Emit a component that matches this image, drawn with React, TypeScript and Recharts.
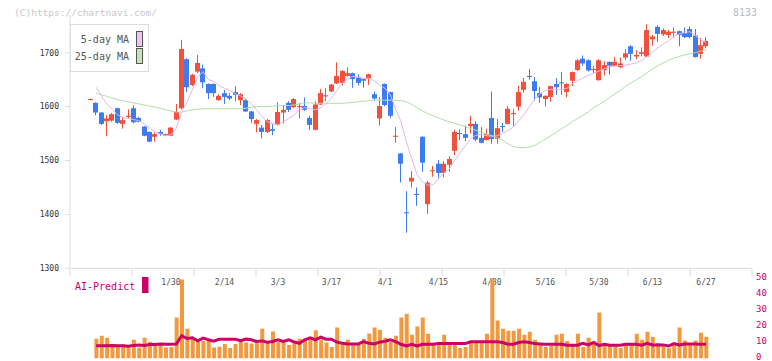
import React from 'react';
import { ComposedChart, Bar, Line, XAxis, YAxis } from 'recharts';

const FONT = '"DejaVu Sans Mono", monospace';
const UP = '#f0503c';
const DOWN = '#3c7cf0';
const AI = '#cc0066';

// daily candles, index 0 = first visible session
const opens = [
  1613, 1607, 1589, 1573, 1574, 1597, 1568, 1581, 1597, 1579,
  1563, 1553, 1544, 1553, 1546, 1546, 1576, 1597, 1688, 1640,
  1665, 1671, 1642, 1642, 1612, 1625, 1620, 1627, 1612, 1612,
  1591, 1568, 1561, 1553, 1558, 1566, 1589, 1607, 1599, 1599,
  1601, 1579, 1557, 1604, 1619, 1628, 1643, 1644, 1657, 1662,
  1654, 1651, 1651, 1623, 1578, 1642, 1627, 1544, 1513, 1404,
  1461, 1438, 1544, 1419, 1480, 1494, 1477, 1492, 1518, 1551,
  1549, 1564, 1568, 1542, 1538, 1579, 1540, 1564, 1568, 1586,
  1600, 1631, 1657, 1647, 1625, 1614, 1618, 1642, 1645, 1627,
  1648, 1668, 1689, 1686, 1668, 1649, 1668, 1683, 1676, 1673,
  1691, 1712, 1693, 1698, 1693, 1725, 1748, 1734, 1733, 1737,
  1740, 1736, 1744, 1732, 1698, 1712,
];
const highs = [
  1615, 1608, 1590, 1584, 1588, 1598, 1580, 1595, 1602, 1581,
  1564, 1554, 1552, 1557, 1550, 1562, 1605, 1724, 1690, 1661,
  1696, 1678, 1643, 1643, 1623, 1631, 1625, 1638, 1625, 1614,
  1592, 1577, 1566, 1577, 1568, 1608, 1603, 1610, 1616, 1607,
  1617, 1583, 1610, 1633, 1634, 1642, 1682, 1668, 1673, 1663,
  1660, 1653, 1661, 1628, 1618, 1643, 1628, 1562, 1514, 1443,
  1480, 1450, 1545, 1462, 1490, 1501, 1499, 1508, 1557, 1558,
  1565, 1583, 1573, 1562, 1559, 1628, 1577, 1570, 1601, 1596,
  1639, 1653, 1670, 1655, 1636, 1621, 1639, 1653, 1664, 1644,
  1665, 1688, 1695, 1688, 1675, 1688, 1684, 1684, 1692, 1691,
  1707, 1714, 1705, 1710, 1753, 1733, 1751, 1745, 1742, 1747,
  1741, 1747, 1749, 1744, 1727, 1729,
];
const lows = [
  1612, 1584, 1566, 1545, 1572, 1568, 1559, 1578, 1569, 1571,
  1545, 1534, 1535, 1546, 1545, 1545, 1575, 1595, 1627, 1638,
  1662, 1634, 1614, 1618, 1611, 1605, 1612, 1610, 1603, 1590,
  1569, 1552, 1541, 1551, 1547, 1565, 1569, 1590, 1597, 1578,
  1592, 1557, 1556, 1603, 1610, 1627, 1642, 1639, 1656, 1635,
  1639, 1635, 1640, 1612, 1565, 1601, 1579, 1533, 1459, 1366,
  1450, 1416, 1479, 1401, 1470, 1468, 1469, 1479, 1510, 1538,
  1536, 1550, 1536, 1532, 1537, 1531, 1531, 1553, 1567, 1564,
  1592, 1626, 1650, 1611, 1607, 1600, 1609, 1622, 1622, 1617,
  1638, 1666, 1676, 1665, 1662, 1648, 1658, 1659, 1675, 1671,
  1686, 1685, 1688, 1693, 1692, 1713, 1720, 1731, 1727, 1728,
  1712, 1727, 1727, 1691, 1689, 1708,
];
const closes = [
  1614, 1589, 1568, 1578, 1586, 1570, 1575, 1583, 1571, 1572,
  1546, 1535, 1549, 1549, 1549, 1561, 1590, 1707, 1636, 1659,
  1681, 1645, 1625, 1625, 1620, 1618, 1615, 1622, 1623, 1591,
  1577, 1575, 1553, 1575, 1555, 1590, 1594, 1594, 1614, 1601,
  1594, 1566, 1604, 1625, 1621, 1641, 1657, 1666, 1662, 1651,
  1644, 1648, 1660, 1615, 1601, 1603, 1583, 1546, 1494, 1402,
  1468, 1436, 1496, 1459, 1482, 1477, 1494, 1503, 1553, 1549,
  1542, 1568, 1539, 1533, 1549, 1540, 1560, 1562, 1596, 1588,
  1627, 1646, 1655, 1629, 1617, 1620, 1638, 1636, 1643, 1642,
  1664, 1686, 1680, 1667, 1670, 1686, 1677, 1676, 1683, 1680,
  1699, 1698, 1696, 1701, 1742, 1730, 1735, 1742, 1739, 1739,
  1733, 1729, 1729, 1692, 1714, 1722,
];
const ma5 = [
  null, 1636, 1620, 1605, 1595, 1585, 1580, 1578, 1576, 1574,
  1568, 1560, 1553, 1550, 1546, 1548, 1560, 1590, 1609, 1631,
  1655, 1665, 1650, 1647, 1639, 1634, 1630, 1624, 1620, 1614,
  1606, 1594, 1582, 1572, 1568, 1566, 1572, 1578, 1584, 1594,
  1598, 1596, 1594, 1598, 1606, 1616, 1630, 1643, 1652, 1656,
  1655, 1652, 1653, 1648, 1640, 1634, 1622, 1595, 1572, 1535,
  1503, 1474, 1461, 1454, 1455, 1466, 1477, 1484, 1500, 1514,
  1527, 1540, 1547, 1548, 1546, 1545, 1546, 1550, 1556, 1562,
  1574, 1586, 1600, 1614, 1624, 1630, 1632, 1632, 1632, 1634,
  1642, 1648, 1653, 1658, 1662, 1666, 1670, 1674, 1675, 1676,
  1677, 1679, 1681, 1686, 1693, 1701, 1709, 1716, 1722, 1731,
  1735, 1738, 1739, 1732, 1724, 1719,
];
const ma25 = [
  null, 1625, 1622, 1619, 1616, 1613, 1611, 1609, 1607, 1605,
  1603, 1601, 1599, 1597, 1594, 1592, 1590, 1590, 1592, 1594,
  1595, 1596, 1596, 1596, 1596, 1596, 1596, 1596, 1596, 1597,
  1599, 1600, 1600, 1600, 1601, 1602, 1602, 1602, 1603, 1605,
  1607, 1607, 1606, 1606, 1606, 1606, 1606, 1606, 1607, 1608,
  1609, 1610, 1611, 1612, 1612, 1612, 1612, 1612, 1611, 1609,
  1604, 1598, 1592, 1587, 1583, 1579, 1575, 1572, 1569, 1566,
  1563, 1559, 1556, 1552, 1549, 1546, 1542, 1538, 1531, 1526,
  1524, 1524, 1525, 1528, 1534, 1540, 1546, 1552, 1559, 1565,
  1572, 1578, 1584, 1590, 1598, 1604, 1610, 1617, 1624, 1630,
  1638, 1644, 1650, 1656, 1663, 1670, 1676, 1681, 1686, 1690,
  1693, 1696, 1698, 1700, 1703, 1705,
];
const volumes = [
  null, 12.3, 14.2, 12.9, 8.9, 7.8, 8.9, 7.2, 11.7, 6.8,
  12.9, 10.4, 8.9, 9.3, 6.8, 7.2, 25.6, 49.4, 18.6, 12.9,
  12.1, 11.0, 11.4, 6.8, 7.4, 9.1, 6.6, 9.1, 11.0, 10.0,
  9.3, 11.0, 18.6, 10.6, 16.9, 10.6, 10.0, 8.5, 10.6, 12.3,
  11.4, 12.9, 17.6, 11.7, 10.0, 7.2, 19.3, 10.0, 11.7, 8.9,
  8.5, 12.3, 15.7, 19.3, 18.0, 12.9, 10.5, 14.2, 25.6, 28.0,
  14.8, 20.0, 25.6, 15.5, 9.0, 9.0, 14.8, 9.0, 9.0, 6.6,
  7.2, 11.0, 11.0, 11.0, 15.5, 50.0, 23.7, 18.6, 17.4, 17.4,
  18.6, 14.8, 16.7, 11.7, 9.7, 7.2, 7.8, 14.8, 15.5, 11.0,
  9.1, 15.5, 7.2, 12.9, 10.4, 28.8, 7.8, 7.8, 7.8, 6.6,
  8.5, 8.5, 15.5, 11.7, 16.7, 13.6, 9.7, 7.8, 6.6, 8.5,
  19.3, 11.2, 8.5, 11.2, 16.1, 13.6,
];
const aiPredict = [
  null, 8.0, 8.0, 8.0, 8.2, 8.0, 8.0, 7.6, 8.2, 8.4,
  8.2, 8.7, 8.7, 9.1, 8.9, 8.9, 9.0, 14.2, 12.5, 13.0,
  11.0, 12.7, 11.7, 10.8, 12.1, 12.1, 12.1, 12.1, 11.2, 12.1,
  11.7, 10.6, 11.0, 10.2, 10.6, 11.7, 10.6, 11.7, 10.4, 9.5,
  11.7, 12.9, 11.7, 13.3, 12.1, 12.1, 10.2, 9.5, 9.1, 9.1,
  9.1, 10.6, 9.5, 9.1, 10.2, 10.8, 11.7, 10.6, 8.9, 7.8,
  8.9, 7.8, 8.9, 8.9, 8.9, 9.3, 9.3, 9.3, 9.3, 9.3,
  9.3, 10.4, 10.4, 10.4, 10.4, 10.4, 10.4, 10.0, 8.9, 8.9,
  10.0, 10.4, 10.0, 9.3, 9.1, 8.9, 8.9, 8.9, 8.9, 8.3,
  8.3, 8.3, 9.5, 8.5, 10.0, 8.1, 8.9, 8.3, 8.3, 8.3,
  8.9, 8.9, 8.9, 8.3, 9.5, 8.5, 8.5, 8.5, 7.8, 9.3,
  8.5, 9.1, 9.1, 9.1, 8.9, 8.9,
];

const dateTickIndex = [15, 25, 35, 45, 55, 65, 75, 85, 95, 105, 115];
const dateLabels = ['1/30', '2/14', '3/3', '3/17', '4/1', '4/15', '4/30', '5/16', '5/30', '6/13', '6/27'];
const priceTicks = [1300, 1400, 1500, 1600, 1700];
const volumeTicks = [0, 10, 20, 30, 40, 50];
// unlabeled tick marks along the bottom axis (in candle-index units)
const gridTicks = [
  -3.88, 7.71, 19.3, 30.89, 42.48, 54.07, 65.66, 77.25, 88.84, 100.43, 112.02, 123.6,
];

// x domain so both panels share the same candle slots
const X_DOMAIN = [-3.8785, 123.598];

const candles = opens.map((open, i) => ({
  i,
  open,
  high: highs[i],
  low: lows[i],
  close: closes[i],
  range: [lows[i], highs[i]],
  ma5: ma5[i],
  ma25: ma25[i],
}));

const volumeData = volumes.map((vol, i) => ({ i, vol, ai: aiPredict[i] }));

const Candle = (props: any) => {
  const { x, y, width, height, payload } = props;
  if (!payload || x == null || y == null) return null;
  const { open, close, high, low } = payload;
  const top = Math.min(y, y + height);
  const h = Math.abs(height);
  const k = high > low ? h / (high - low) : 0;
  const yo = top + (high - open) * k;
  const yc = top + (high - close) * k;
  const color = close >= open ? UP : DOWN;
  const cx = Math.floor(x + width / 2) + 0.5;
  const bodyTop = Math.min(yo, yc);
  const bodyH = Math.max(Math.abs(yc - yo), 1);
  return (
    <g>
      <line x1={cx} x2={cx} y1={top} y2={top + h} stroke={color} strokeWidth={1} />
      <rect x={cx - 2.5} y={bodyTop} width={5} height={bodyH} fill={color} />
    </g>
  );
};

// the bottom axis only shows tick marks, no labels
const NoLabel = () => <g />;

export default function App() {
  return (
    <div
      style={{
        position: 'absolute',
        left: 0,
        top: 0,
        width: 772,
        height: 361,
        overflow: 'hidden',
        background: '#fff',
      }}
    >
      <div style={{ position: 'absolute', left: 0, top: 0 }}>
        <ComposedChart
          width={772}
          height={361}
          data={candles}
          margin={{ top: 15, right: 20, left: 0, bottom: 90.7 }}
        >
          <XAxis
            dataKey="i"
            type="number"
            domain={X_DOMAIN}
            allowDataOverflow
            ticks={dateTickIndex}
            interval={0}
            height={1}
            tickFormatter={(v: number) => dateLabels[dateTickIndex.indexOf(v)] ?? ''}
            tickLine={false}
            tickSize={6}
            tickMargin={5}
            axisLine={{ stroke: '#dddddd' }}
            tick={{ fill: '#555', fontSize: 8, fontFamily: FONT }}
          />
          <XAxis
            xAxisId="grid"
            dataKey="i"
            type="number"
            domain={X_DOMAIN}
            ticks={gridTicks}
            interval={0}
            allowDataOverflow
            height={1}
            axisLine={false}
            tick={NoLabel}
            tickSize={7}
            tickLine={{ stroke: '#d8d8d8' }}
          />
          <YAxis
            domain={[1300, 1770]}
            allowDataOverflow
            ticks={priceTicks}
            interval={0}
            width={70}
            tickSize={5}
            tickMargin={6}
            axisLine={{ stroke: '#dddddd' }}
            tickLine={{ stroke: '#dddddd' }}
            tick={{ fill: '#333', fontSize: 8, fontFamily: FONT }}
          />
          <Line
            dataKey="ma25"
            stroke="#b4dcaa"
            strokeWidth={1}
            dot={false}
            isAnimationActive={false}
          />
          <Line
            dataKey="ma5"
            stroke="#e8b4ec"
            strokeWidth={1}
            dot={false}
            isAnimationActive={false}
          />
          <Bar dataKey="range" barSize={5} shape={<Candle />} isAnimationActive={false} />
        </ComposedChart>
      </div>

      <div style={{ position: 'absolute', left: 0, top: 0 }}>
        <ComposedChart
          width={772}
          height={361}
          data={volumeData}
          margin={{ top: 278.5, right: 0, left: 70, bottom: 2.5 }}
        >
          <XAxis dataKey="i" type="number" domain={X_DOMAIN} allowDataOverflow hide height={0} />
          <YAxis
            orientation="right"
            domain={[0, 50]}
            allowDataOverflow
            ticks={volumeTicks}
            interval={0}
            width={20}
            tickSize={0}
            tickMargin={4}
            tickLine={false}
            axisLine={false}
            tick={{ fill: AI, fontSize: 9, fontFamily: FONT, textAnchor: 'start', dy: -1.5 }}
          />
          <Bar dataKey="vol" barSize={4} fill="#f2993f" isAnimationActive={false} />
          <Line
            dataKey="ai"
            stroke={AI}
            strokeWidth={3}
            dot={false}
            isAnimationActive={false}
          />
        </ComposedChart>
      </div>

      <svg
        width={772}
        height={361}
        style={{ position: 'absolute', left: 0, top: 0, pointerEvents: 'none' }}
      >
        <text x={14} y={16} fontFamily={FONT} fontSize={9.5} fill="#c8c8c8">
          (C)https://chartnavi.com/
        </text>
        <text x={733} y={16} fontFamily={FONT} fontSize={10} fill="#bbbbbb">
          8133
        </text>
        <rect x={70.5} y={24.5} width={78} height={47} fill="#fff" stroke="#dddddd" />
        <text x={129} y={43} textAnchor="end" fontFamily={FONT} fontSize={10} fill="#555">
          5-day MA
        </text>
        <text x={129} y={60} textAnchor="end" fontFamily={FONT} fontSize={10} fill="#555">
          25-day MA
        </text>
        <rect x={136.5} y={31.5} width={6} height={15} fill="#f0c4f0" stroke="#555" />
        <rect x={136.5} y={48.5} width={6} height={15} fill="#c4e4b8" stroke="#555" />
        <text x={75} y={290} fontFamily={FONT} fontSize={10} fill={AI}>
          AI-Predict
        </text>
        <rect x={142} y={277} width={6.5} height={16} fill={AI} />
      </svg>
    </div>
  );
}
